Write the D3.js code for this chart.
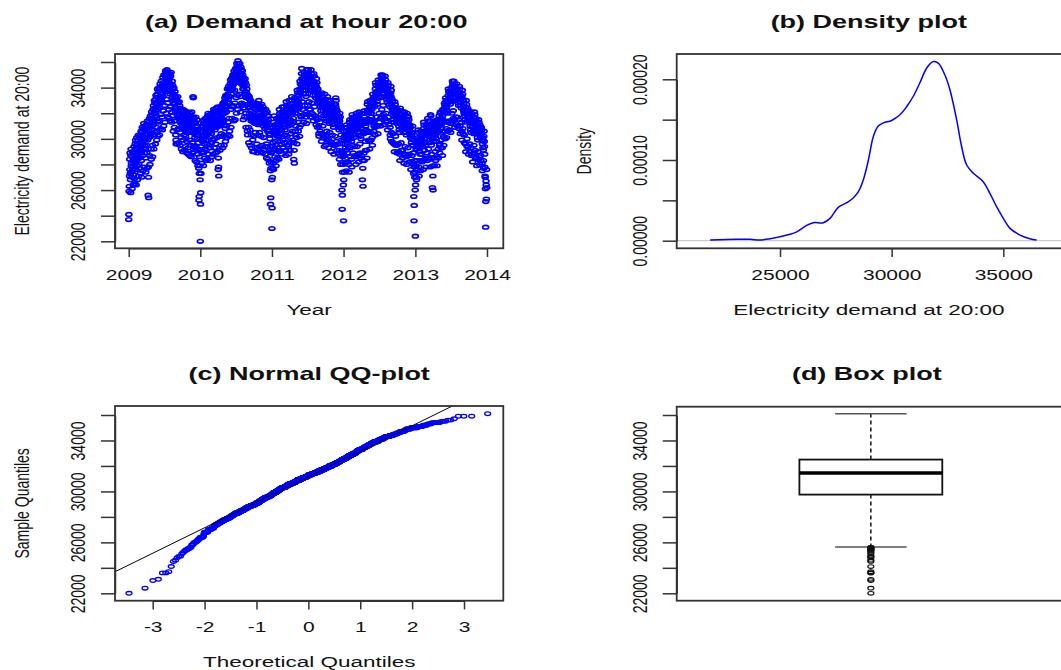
<!DOCTYPE html>
<html>
<head>
<meta charset="utf-8">
<script src="https://cdn.jsdelivr.net/npm/d3@7"></script>
<style>
html, body { margin: 0; padding: 0; background: #fff; }
svg { display: block; }
text { font-family: "Liberation Sans", Arial, sans-serif; fill: #111; }
</style>
</head>
<body>
<svg id="chart" width="1061" height="670"></svg>
<script>
// daily electricity demand at 20:00 (MW), one array per year from 1 January
var demand2009 = [
  23700,24100,25900,26300,27100,28400,27600,28900,27300,26800,25800,28700,29200,27900,28100,27400,27000,26100,27500,28600,29000,27800,28300,26400,27200,28900,28200,29400,27700,28500,26900,
  26500,28300,29600,28900,29900,28100,27600,26400,29500,28600,30100,29200,28400,27900,26800,28800,29900,29300,30300,28700,27100,28000,30200,29000,29700,28500,29400,27700,
  27300,29100,30300,29800,30600,28900,28300,27000,30500,29400,30900,29700,30200,28700,27500,29600,30800,30000,31200,29300,27800,28900,30700,29500,31000,30100,29200,28500,27400,30400,31100,
  30000,31000,29500,28900,27700,30800,31400,29900,30300,25600,27800,27000,25400,30600,31300,30100,31600,28700,28000,31100,30400,31800,30200,30900,29200,28400,31500,32100,30700,31900,
  31000,29500,28600,31600,32300,31100,32600,31400,29200,30300,32000,33000,31700,32800,32400,30500,29600,33100,32200,33400,32500,31800,30900,29900,30600,33500,32700,33900,32300,31300,30200,
  32600,33700,33100,34000,32400,31400,30300,33900,33200,34300,32800,33600,30800,31900,33300,34500,33000,34100,32900,31700,30700,34200,33500,34800,33300,34400,32200,31000,33800,35000,
  34100,35000,33900,32600,31300,34900,34200,35300,34400,33700,32000,33100,35200,34600,35400,34900,33900,32800,31700,34300,35100,34700,33800,34500,32300,31600,33900,34800,34300,35100,33500,
  32500,31400,34900,34300,35200,33700,34100,31300,32100,33600,34500,33200,34200,33000,31800,30600,33900,33100,34000,32700,33500,30900,31400,32800,33700,32400,33300,32100,30300,29900,29600,
  33200,32400,33000,31900,30700,29600,32300,33300,31800,32800,31600,30800,29700,31900,32900,32200,31500,32600,29500,30500,32400,31400,32100,31200,31700,30100,29200,31300,32300,30900,
  32100,30900,29900,29000,31200,32300,30800,31900,31400,30300,29100,31800,30700,32200,31100,31500,29400,30200,30900,31900,30600,32000,31300,29800,28900,31700,30800,32100,31000,31600,29300,
  28800,30900,31900,30600,31500,31100,29900,28700,31600,30500,32000,31200,30700,29500,28600,31800,31000,32100,30800,31400,29700,28900,30700,31700,33300,33200,30500,29000,29400,31300,
  31600,30400,31300,30100,29400,28300,31200,30600,31700,30300,30900,29300,28200,30500,31500,30000,31000,30700,28800,27900,30300,29200,29700,27700,25200,25500,27300,28600,29100,27900,26800
];
var demand2010 = [
  22000,24900,25800,27300,29400,30600,29900,30900,28100,28900,31000,30200,31400,29800,30500,29000,27900,30300,31200,30000,31500,29600,28500,29200,31100,30400,31600,30700,29900,28300,29100,
  30600,31500,30300,31700,30900,29600,28400,31800,30700,32000,31100,30500,28800,29500,30800,31600,30200,31900,30900,29300,28300,31400,30600,31800,31200,30400,29700,28600,
  31000,32000,30800,31700,31300,29900,28800,31900,31100,32300,30900,31600,29300,30000,31400,32200,30700,32100,31500,28900,29600,31800,32400,31200,32000,30900,30100,29000,31600,32500,31300,
  31100,27600,28500,27800,27100,31300,32100,31000,31800,30200,29100,32300,31400,32500,31700,31200,29500,30400,31600,32600,31300,32400,31900,30200,29300,32000,32800,31500,32700,31400,
  30300,29500,31100,32900,32000,33200,32500,30800,29800,32300,33400,32600,33300,32100,31000,30100,33300,32500,33900,32900,33500,31300,30300,33100,34100,33300,33900,32800,31600,30600,30200,
  33300,34300,33800,34600,32300,30900,34100,33500,34700,33900,34400,31600,32500,34800,33900,35000,34200,34500,32600,31400,34300,35300,34600,35100,33800,32800,31500,35000,34400,35500,
  34800,35400,33200,32000,35000,35900,34700,35700,35200,33400,32300,36100,35300,35900,34900,35600,32600,33500,35500,34600,35900,35000,34400,33300,32100,34700,35600,35100,34300,35400,32800,
  32600,34500,35300,34200,35000,33900,32700,31500,34800,33900,34600,34100,34300,31700,32400,33500,34700,33700,34400,33300,32000,30900,33200,34200,33600,33900,32700,31700,30600,30300,33400,
  33400,32500,33200,30900,29700,32400,33300,32000,33100,31800,30700,29500,32700,31600,33000,32200,31400,30300,29300,31900,32800,31500,32600,31700,29900,29000,31700,32800,31300,32400,
  31300,30200,29000,31600,32600,31400,32300,31200,30500,29300,32400,31700,32800,31500,31900,29600,28900,31800,32700,31300,32500,31100,30300,29200,32000,33000,31700,32600,31400,30500,29400,
  31500,32600,31200,32400,31800,30200,29000,32300,31300,32700,31600,31900,29500,28900,31400,32500,31700,32300,31000,30100,29100,32100,31300,32000,31500,30800,29400,28800,31200,32300,
  32000,31000,31400,29600,28500,31100,32100,30900,31800,30600,29400,28400,31500,30700,31800,31100,30400,29100,28100,30900,30000,30300,29100,27500,24900,25400,27700,28900,28200,29000,26800
];
var demand2011 = [
  23000,24600,27000,29400,30900,27700,29700,28100,27600,31300,30700,31800,30600,31100,29200,28600,29800,30600,29500,30300,29100,27900,28300,30700,31600,30400,31100,30200,28500,29300,31200,
  30900,31500,30600,30200,28400,29000,31700,32300,31500,32000,31200,29800,29100,31000,31600,30400,31300,30700,28800,29600,32000,32500,31600,32100,31400,29900,29300,31100,
  32200,31600,32500,31800,29700,30300,30900,31600,30700,31400,30300,29100,28700,32300,32900,31800,32600,32000,30200,29500,31500,32100,31200,31900,31000,29400,28800,32500,33000,32100,32600,
  31300,29800,29100,31500,32200,31300,32000,31100,30400,29700,32700,33300,32400,33000,32200,30600,29900,32100,32500,31600,31300,28400,29700,29100,28100,32600,33200,32300,32000,30600,
  30300,31000,32600,32000,32900,32300,30100,29600,33300,33800,33000,33600,32900,31300,30600,32800,33400,32500,33100,32400,30900,30200,33900,34500,33600,34300,33700,31800,31100,31700,34200,
  35100,35500,34700,32900,32300,34000,34600,33800,34300,33500,31900,31300,34700,35200,34400,35000,34100,32600,31900,33800,34400,33500,34100,33300,31700,31200,34900,35400,34500,35000,
  34300,32600,31900,35000,35400,34700,35200,34500,32900,32300,34300,34900,34000,34600,33800,32300,31700,34900,35400,34600,35100,34300,32800,32000,34000,34500,33700,34200,33400,31900,31400,
  34500,35100,34300,34900,34100,32500,31800,33700,34300,33400,34000,33200,31600,31100,34100,34700,33800,34400,33600,31500,30900,33300,33900,33000,33600,32800,31000,30400,30200,32900,33400,
  33500,32900,31300,30600,32500,33000,32200,32700,31900,30400,29800,33000,33600,32700,33300,32500,31000,30300,32200,32700,31800,32400,31600,30100,29400,32900,33500,32600,33100,32300,
  30200,29500,31900,32500,31600,32200,31400,30600,29900,32800,33300,32500,33000,32200,30000,29300,31700,32300,31400,32000,31200,30500,29800,32500,33000,32200,32800,32000,29700,29000,31300,
  32400,32800,32000,31700,30300,29600,31400,31900,31100,31700,30900,29500,28800,32100,32700,31800,32400,31600,30200,29500,32700,33200,32500,33000,32300,29800,29100,31600,32200,31400,
  31900,31200,29600,28900,31200,31700,30900,31500,30700,29100,28400,31400,32000,31100,31700,30900,28700,28000,30300,30800,29900,29600,29000,26000,24500,25600,27400,28600,28000,28800,26400
];
var demand2012 = [
  23600,26800,29900,30600,30200,27400,28700,28100,29600,30300,29300,30000,29100,28200,27500,30600,31100,30300,30900,30100,28900,28200,30000,30500,29700,30200,29400,28000,27400,30700,31300,
  31000,31500,30700,29300,28600,30300,30900,30000,30600,29800,28400,27800,31400,31900,31100,31700,30900,29500,28900,30600,31100,30300,30900,30100,29400,28700,31200,31700,30900,
  30700,30300,28600,28000,31500,32000,31200,31700,30900,29400,28700,30800,31300,30500,31100,30300,28800,28200,31600,32100,31300,31900,31100,29600,28900,30500,31000,30200,30800,30000,28500,
  28700,31500,32000,31200,30800,26800,28300,27700,26300,31200,30500,31300,30400,28900,28300,31700,32200,31400,32000,31200,29800,29100,31000,31500,30700,31300,30500,29100,28500,31400,
  32700,32200,32900,32100,30600,29900,30500,32300,31500,32100,31300,29800,29200,32500,33000,32200,32800,32000,30500,29900,32000,32500,31700,32300,31500,30100,29500,32900,33500,32600,33200,
  32600,31300,30600,31000,31400,32800,33300,32500,30900,30300,33900,34400,33600,34200,33400,31700,31000,33200,33700,32900,33500,32700,31000,30400,34100,34600,33800,34400,33600,32000,
  31300,33700,34200,33300,34000,33200,31600,31000,34500,35000,34200,34700,34000,32300,31700,34700,35000,34400,34900,34100,32600,31900,33800,34300,33500,34100,33300,31600,31100,34400,34900,
  34100,34600,33800,32000,31300,33400,33900,33100,33700,32900,31400,30700,33900,34400,33600,34200,33400,31700,31100,33000,33500,32700,33300,32500,30900,30300,30000,33600,34100,33300,33800,
  30500,29800,32600,33100,32300,32900,32100,30400,29700,31800,32300,31500,32100,31300,29600,29000,32400,32900,32100,32700,31900,30200,29500,31700,32200,31400,32000,31200,29500,28900,
  31800,32300,31500,32100,31300,29600,29000,31000,31500,30700,31300,30500,28800,28300,31900,32400,31600,32200,31400,29700,29100,31200,31700,30900,31500,30700,29100,28500,31600,32100,31300,
  31100,30500,28700,28100,31600,32100,31300,31900,31100,29400,28800,30800,31300,30500,31100,30300,28600,28000,31500,32000,31200,31800,31000,29300,28700,31200,31700,30900,31500,30700,
  28800,28200,30600,31100,30300,30900,30100,28200,27600,30000,30500,29700,30300,29500,28700,28100,30500,31000,29900,29500,28900,28000,27300,25500,23600,24800,27800,28300,27000,27400,26000
];
var demand2013 = [
  22400,26400,28300,29200,27900,27000,26800,29400,30000,29200,29700,28300,27600,30100,30700,29900,30500,29700,27800,27100,29300,29800,29000,29600,28800,28300,27500,30000,30600,29800,30300,
  30000,28800,28200,29900,30400,29600,30200,29400,28300,27600,30800,31300,30500,31100,30300,29100,28400,30000,30500,29700,30300,29500,28500,27800,30600,31100,30300,30900,
  30400,28900,28300,31100,31600,30800,31400,30600,29200,28500,30200,30700,29900,30500,29700,28400,27800,31400,31900,31100,31800,31000,29500,28800,30700,31200,30400,30000,26200,27900,27100,
  26000,30100,30600,29800,30400,28500,27900,30900,31400,30600,31200,30400,29000,28300,30300,30800,30000,30600,29800,28600,27900,31000,31500,30700,31300,30500,29200,28500,31000,31500,
  31400,31800,31100,29500,28900,29600,32000,31500,32100,31400,29900,29300,31100,31600,30800,31400,30600,29300,28700,31800,32300,31500,32100,31300,30200,29500,30100,32300,32800,32000,32600,
  30600,30000,32700,33200,32400,33000,32200,30800,30100,32500,33000,32200,32800,32000,31300,30600,33400,33900,33100,33700,32900,31400,30700,33200,33700,32900,33500,32700,31200,30500,
  33400,33900,33100,33700,32900,32000,31300,34100,34500,33800,34300,33500,32200,31600,34000,34500,33700,34300,33500,31500,30900,33500,34000,33200,33800,33000,31700,31100,33800,34300,33500,
  33900,33400,31700,31000,33100,33600,32800,33400,32600,31500,30800,33600,34100,33300,33900,33100,31000,30400,32900,33400,32600,33200,32400,31300,30600,29900,33300,33800,33000,33500,30800,
  30400,32500,33000,32200,32800,32000,30300,29700,31800,32300,31500,32100,31300,29600,29000,32500,33000,32200,32700,31900,30000,29400,31900,32400,31600,32200,31400,29400,28800,31700,
  31700,32200,31400,31900,29600,29000,31000,31500,30700,31300,30500,29300,28700,31500,32000,31200,31800,31000,28800,28200,30900,31400,30600,31200,30400,29500,28900,31600,32100,31300,31900,
  30600,29100,28500,31100,31600,30800,31400,30600,28500,27900,30400,30900,30100,30700,29900,29000,28400,31000,31500,30700,31300,30500,28600,28000,30600,31100,30300,30900,30100,28700,
  28300,30400,30900,30100,30700,29900,28100,27500,29600,30100,29300,29900,29100,28300,27700,30200,30600,29800,29400,28800,27800,27100,27000,26100,23100,25100,26700,26400,25300,27600,26200
];
var yearTicks = [2009, 2010, 2011, 2012, 2013, 2014];
var demandTicks = [22000, 24000, 26000, 28000, 30000, 32000, 34000, 36000];
var demandLabels = [22000, 26000, 30000, 34000];

// panel (b): kernel density curve
var densityX = [21870, 23060, 23660, 24100, 24550, 25000, 25450, 25750, 26190, 26490, 26940, 27240, 27610, 27990, 28280,
  28510, 28730, 28960, 29180, 29400, 29630, 30000, 30370, 30670, 30970, 31270, 31570, 31870, 32090, 32390,
  32610, 32910, 33130, 33360, 33660, 34100, 34400, 34700, 35000, 35300, 35750, 36190, 36490];
var densityY = [0.8e-6, 1.7e-6, 1.7e-6, 0.8e-6, 2.5e-6, 5.0e-6, 7.9e-6, 11.0e-6, 19.0e-6, 22.3e-6, 22.3e-6, 27.7e-6, 41.3e-6, 47.1e-6, 52.9e-6,
  60.7e-6, 75.2e-6, 100e-6, 129e-6, 142e-6, 146e-6, 149e-6, 156e-6, 166e-6, 179e-6, 196e-6, 214e-6, 222e-6, 220e-6, 205e-6,
  187e-6, 150e-6, 117e-6, 93.8e-6, 83.5e-6, 73.1e-6, 58.7e-6, 42.1e-6, 27.7e-6, 15.3e-6, 7.0e-6, 2.5e-6, 0.8e-6];
var densityTicks = [0, 0.00005, 0.0001, 0.00015, 0.0002];
var densityLabels = [0, 0.0001, 0.0002];
var demandXTicks = [25000, 30000, 35000];

// panel (c)
var qqTicks = [-3, -2, -1, 0, 1, 2, 3];

// panel (d): lower whisker, Q1, median, Q3, upper whisker
var boxStats = [25640, 29750, 31450, 32500, 36100];

var SX = 1.5; // the picture is stretched horizontally
var svg = d3.select('#chart');

var pa = {l: 115, r: 503.3, t: 54, b: 248.3};
var pb = {l: 676.7, r: 1065, t: 54, b: 248.3};
var pc = {l: 115, r: 503.3, t: 406, b: 600.7};
var pd = {l: 676.7, r: 1065, t: 406.7, b: 600.7};

function hText(x, y, str, size, bold) {
  return svg.append('text')
    .attr('transform', 'translate(' + x + ',' + y + ') scale(' + SX + ',1)')
    .attr('text-anchor', 'middle')
    .style('font-size', size + 'px')
    .style('font-weight', bold ? 'bold' : 'normal')
    .text(str);
}
function vText(x, y, str, size) {
  return svg.append('text')
    .attr('transform', 'translate(' + x + ',' + y + ') scale(' + SX + ',1) rotate(-90)')
    .attr('text-anchor', 'middle')
    .style('font-size', size + 'px')
    .text(str);
}
function styleAxis(g) {
  g.attr('color', '#333');
  g.select('.domain').attr('stroke-width', 1.5);
  g.selectAll('.tick line').attr('stroke-width', 1.5);
  g.selectAll('.tick text').style('font-size', '14px').attr('fill', '#111');
}
function xAxis(scale, y, values, fmt) {
  var g = svg.append('g').attr('transform', 'translate(0,' + y + ')')
    .call(d3.axisBottom(scale).tickValues(values).tickFormat(fmt).tickSize(8.7).tickSizeOuter(0));
  styleAxis(g);
  g.selectAll('.tick text').attr('y', null).attr('dy', null)
    .attr('transform', 'translate(0,31.7) scale(' + SX + ',1)');
}
function yAxis(scale, x, values, fmt) {
  var g = svg.append('g').attr('transform', 'translate(' + x + ',0)')
    .call(d3.axisLeft(scale).tickValues(values).tickFormat(fmt).tickSize(14).tickSizeOuter(0));
  styleAxis(g);
  g.selectAll('.tick text').attr('x', null).attr('dy', null).attr('text-anchor', 'middle')
    .attr('transform', 'translate(-30,0) scale(' + SX + ',1) rotate(-90)');
}
function frame(p) {
  svg.append('rect').attr('x', p.l).attr('y', p.t).attr('width', p.r - p.l).attr('height', p.b - p.t)
    .attr('fill', 'none').attr('stroke', '#333').attr('stroke-width', 1.8);
}
function dots(g, data, fx, fy, color, sw) {
  g.selectAll('ellipse').data(data).join('ellipse')
    .attr('cx', fx).attr('cy', fy).attr('rx', 3.0).attr('ry', 1.8)
    .attr('fill', 'none').attr('stroke', color).attr('stroke-width', sw);
}

// inverse standard normal cdf (Acklam)
function qnorm(p) {
  var a = [-3.969683028665376e+01, 2.209460984245205e+02, -2.759285104469687e+02, 1.383577518672690e+02, -3.066479806614716e+01, 2.506628277459239e+00];
  var b = [-5.447609879822406e+01, 1.615858368580409e+02, -1.556989798598866e+02, 6.680131188771972e+01, -1.328068155288572e+01];
  var c = [-7.784894002430293e-03, -3.223964580411365e-01, -2.400758277161838e+00, -2.549732539343734e+00, 4.374664141464968e+00, 2.938163982698783e+00];
  var d = [7.784695709041462e-03, 3.224671290700398e-01, 2.445134137142996e+00, 3.754408661907416e+00];
  var q, r;
  if (p < 0.02425) {
    q = Math.sqrt(-2 * Math.log(p));
    return (((((c[0]*q+c[1])*q+c[2])*q+c[3])*q+c[4])*q+c[5]) / ((((d[0]*q+d[1])*q+d[2])*q+d[3])*q+1);
  }
  if (p > 1 - 0.02425) {
    q = Math.sqrt(-2 * Math.log(1 - p));
    return -(((((c[0]*q+c[1])*q+c[2])*q+c[3])*q+c[4])*q+c[5]) / ((((d[0]*q+d[1])*q+d[2])*q+d[3])*q+1);
  }
  q = p - 0.5; r = q * q;
  return (((((a[0]*r+a[1])*r+a[2])*r+a[3])*r+a[4])*r+a[5])*q / (((((b[0]*r+b[1])*r+b[2])*r+b[3])*r+b[4])*r+1);
}

var demand = [].concat(demand2009, demand2010, demand2011, demand2012, demand2013);
var start = new Date(2009, 0, 1);
var days = demand.map(function (v, i) { return {date: d3.timeDay.offset(start, i), value: v}; });

// ---- (a) time series
var xa = d3.scaleTime().domain([new Date(2009, 0, 1), new Date(2014, 0, 1)]).range([128.7, 487]);
var ya = d3.scaleLinear().domain([22000, 36000]).range([241.3, 62]);
dots(svg.append('g'), days, function (d) { return xa(d.date); }, function (d) { return ya(d.value); }, '#0000ff', 1.6);
xAxis(xa, pa.b, yearTicks.map(function (y) { return new Date(y, 0, 1); }), d3.timeFormat('%Y'));
yAxis(ya, pa.l, demandTicks, function (d) { return demandLabels.indexOf(d) >= 0 ? d : ''; });
frame(pa);
hText((pa.l + pa.r) / 2 - 3, 28.3, '(a) Demand at hour 20:00', 18, true);
hText((pa.l + pa.r) / 2, 315, 'Year', 15);
vText(pa.l - 86, (pa.t + pa.b) / 2, 'Electricity demand at 20:00', 14);

// ---- (b) density
var xb = d3.scaleLinear().domain([25000, 35000]).range([780, 1003.3]);
var yb = d3.scaleLinear().domain([0, 0.0002]).range([240.7, 79.3]);
svg.append('line').attr('x1', pb.l).attr('x2', pb.r).attr('y1', yb(0)).attr('y2', yb(0))
  .attr('stroke', '#bebebe').attr('stroke-width', 1);
var dens = densityX.map(function (x, i) { return [x, densityY[i]]; });
svg.append('path').datum(dens)
  .attr('d', d3.line().x(function (d) { return xb(d[0]); }).y(function (d) { return yb(d[1]); }).curve(d3.curveCatmullRom))
  .attr('fill', 'none').attr('stroke', '#0000ff').attr('stroke-width', 1.5);
xAxis(xb, pb.b, demandXTicks, function (d) { return String(d); });
yAxis(yb, pb.l, densityTicks, function (d) { return densityLabels.indexOf(d) >= 0 ? d.toFixed(5) : ''; });
frame(pb);
hText((pb.l + pb.r) / 2 - 2, 28.3, '(b) Density plot', 18, true);
hText((pb.l + pb.r) / 2 - 2, 315, 'Electricity demand at 20:00', 15);
vText(pb.l - 86, (pb.t + pb.b) / 2, 'Density', 14);

// ---- (c) normal QQ plot
var sorted = demand.slice().sort(d3.ascending);
var n = sorted.length;
var qq = sorted.map(function (v, i) { return [qnorm((i + 0.5) / n), v]; });
var xc = d3.scaleLinear().domain([-3, 3]).range([152.7, 464]);
var yc = d3.scaleLinear().domain([22000, 36000]).range([593.3, 415]);
svg.append('clipPath').attr('id', 'clipc').append('rect')
  .attr('x', pc.l).attr('y', pc.t).attr('width', pc.r - pc.l).attr('height', pc.b - pc.t);
dots(svg.append('g'), qq, function (d) { return xc(d[0]); }, function (d) { return yc(d[1]); }, '#0000ff', 1.3);
var q1 = d3.quantile(sorted, 0.25), q3 = d3.quantile(sorted, 0.75);
var slope = (q3 - q1) / (qnorm(0.75) - qnorm(0.25));
var icpt = q1 - slope * qnorm(0.25);
var xl = [xc.invert(pc.l), xc.invert(pc.r)];
svg.append('line').attr('clip-path', 'url(#clipc)')
  .attr('x1', xc(xl[0])).attr('y1', yc(icpt + slope * xl[0]))
  .attr('x2', xc(xl[1])).attr('y2', yc(icpt + slope * xl[1]))
  .attr('stroke', '#000').attr('stroke-width', 1);
xAxis(xc, pc.b, qqTicks, function (d) { return String(d); });
yAxis(yc, pc.l, demandTicks, function (d) { return demandLabels.indexOf(d) >= 0 ? d : ''; });
frame(pc);
hText((pc.l + pc.r) / 2, 380, '(c) Normal QQ-plot', 18, true);
hText((pc.l + pc.r) / 2, 667.4, 'Theoretical Quantiles', 15);
vText(pc.l - 86, (pc.t + pc.b) / 2, 'Sample Quantiles', 14);

// ---- (d) box plot
var xd = d3.scaleLinear().domain([0.5, 1.5]).range([pd.l, pd.r]);
var yd = d3.scaleLinear().domain([22000, 36000]).range([593.3, 415]);
var bx = svg.append('g').attr('stroke', '#111').attr('fill', 'none');
bx.append('line').attr('x1', xd(1)).attr('x2', xd(1)).attr('y1', yd(boxStats[3])).attr('y2', yd(boxStats[4]))
  .attr('stroke-width', 1.5).attr('stroke-dasharray', '4,3');
bx.append('line').attr('x1', xd(1)).attr('x2', xd(1)).attr('y1', yd(boxStats[1])).attr('y2', yd(boxStats[0]))
  .attr('stroke-width', 1.5).attr('stroke-dasharray', '4,3');
bx.selectAll('line.cap').data([boxStats[0], boxStats[4]]).join('line').attr('class', 'cap')
  .attr('x1', xd(1 - 0.092)).attr('x2', xd(1 + 0.092)).attr('y1', function (d) { return yd(d); }).attr('y2', function (d) { return yd(d); })
  .attr('stroke', '#555').attr('stroke-width', 1.5);
bx.append('rect').attr('x', xd(1 - 0.184)).attr('width', xd(1 + 0.184) - xd(1 - 0.184))
  .attr('y', yd(boxStats[3])).attr('height', yd(boxStats[1]) - yd(boxStats[3]))
  .attr('fill', '#fff').attr('stroke-width', 1.8);
bx.append('line').attr('x1', xd(1 - 0.184)).attr('x2', xd(1 + 0.184)).attr('y1', yd(boxStats[2])).attr('y2', yd(boxStats[2]))
  .attr('stroke', '#000').attr('stroke-width', 3.5);
var outliers = demand.filter(function (v) { return v < boxStats[0] || v > boxStats[4]; });
dots(svg.append('g'), outliers, function () { return xd(1); }, function (d) { return yd(d); }, '#111', 1.2);
yAxis(yd, pd.l, demandTicks, function (d) { return demandLabels.indexOf(d) >= 0 ? d : ''; });
frame(pd);
hText((pd.l + pd.r) / 2 - 4, 380, '(d) Box plot', 18, true);
</script>
</body>
</html>
